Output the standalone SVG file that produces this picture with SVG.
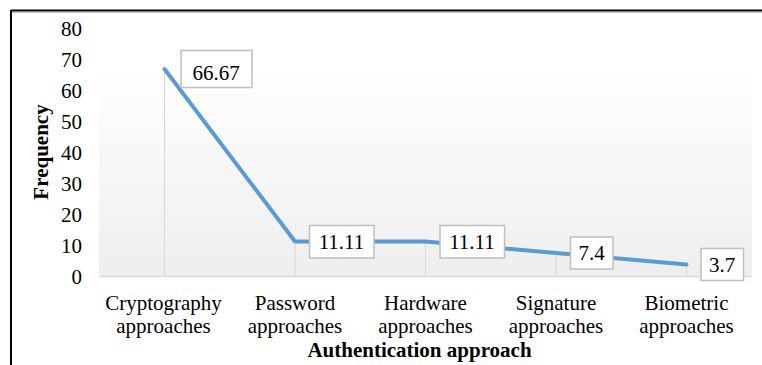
<svg xmlns="http://www.w3.org/2000/svg" width="762" height="365" viewBox="0 0 762 365">
<defs>
<linearGradient id="pa" x1="0" y1="0" x2="0" y2="1">
<stop offset="0" stop-color="#ffffff"/>
<stop offset="0.15" stop-color="#ffffff"/>
<stop offset="1" stop-color="#eeeeee"/>
</linearGradient>
</defs>
<style>
text{font-family:"Liberation Serif","Times New Roman",serif;fill:#000;font-size:21px}
.tick{text-anchor:end}
.cat{text-anchor:middle}
.title{font-weight:bold;text-anchor:middle}
.dl{text-anchor:middle}
.lbl{fill:#fff;stroke:#bfbfbf;stroke-width:1.5}
.drop{stroke:#d9d9d9;stroke-width:1.2}
</style>
<rect width="762" height="365" fill="#fff"/>
<line x1="11" y1="10.5" x2="762" y2="10.5" stroke="#000" stroke-width="2"/>
<line x1="11" y1="12" x2="762" y2="12" stroke="#888" stroke-width="1"/>
<line x1="11" y1="10" x2="11" y2="365" stroke="#000" stroke-width="2"/>
<rect x="99" y="28" width="653" height="248" fill="url(#pa)"/>
<line x1="99" y1="276.5" x2="752" y2="276.5" stroke="#d9d9d9" stroke-width="1.5"/>
<g id="yaxis">
<text class="tick" x="82" y="35.5">80</text>
<text class="tick" x="82" y="66.5">70</text>
<text class="tick" x="82" y="97.5">60</text>
<text class="tick" x="82" y="128.5">50</text>
<text class="tick" x="82" y="159.5">40</text>
<text class="tick" x="82" y="190.5">30</text>
<text class="tick" x="82" y="221.5">20</text>
<text class="tick" x="82" y="252.5">10</text>
<text class="tick" x="82" y="283.5">0</text>
<text class="title" transform="translate(47.5,152) rotate(-90)">Frequency</text>
</g>
<g id="connectors">
<line class="drop" x1="164.5" y1="69" x2="164.5" y2="276"/>
<line class="drop" x1="295" y1="241.5" x2="295" y2="276"/>
<line class="drop" x1="425.5" y1="241.5" x2="425.5" y2="276"/>
<line class="drop" x1="556" y1="253" x2="556" y2="276"/>
<line class="drop" x1="686.5" y1="264.5" x2="686.5" y2="276"/>
<polyline points="164.5,69 295,241.5 425.5,241.5 556,253 686.5,264.5" fill="none" stroke="#5b9bd5" stroke-width="4" stroke-linejoin="round" stroke-linecap="round"/>
</g>
<g id="cryptography">
<rect class="lbl" x="181" y="50.5" width="71" height="37"/>
<text class="dl" x="216" y="80" font-size="24">66.67</text>
<text class="cat" x="163.5" y="310">Cryptography</text>
<text class="cat" x="163.5" y="333">approaches</text>
</g>
<g id="password">
<rect class="lbl" x="309.5" y="225.5" width="64.5" height="32.5"/>
<text class="dl" x="341.5" y="249">11.11</text>
<text class="cat" x="295" y="310">Password</text>
<text class="cat" x="295" y="333">approaches</text>
</g>
<g id="hardware">
<rect class="lbl" x="440" y="225.5" width="64.5" height="32.5"/>
<text class="dl" x="472" y="249">11.11</text>
<text class="cat" x="425.5" y="310">Hardware</text>
<text class="cat" x="425.5" y="333">approaches</text>
</g>
<g id="signature">
<rect class="lbl" x="570.5" y="237" width="42.5" height="32"/>
<text class="dl" x="591.5" y="260">7.4</text>
<text class="cat" x="556" y="310">Signature</text>
<text class="cat" x="556" y="333">approaches</text>
</g>
<g id="biometric">
<rect class="lbl" x="701" y="248.5" width="42.5" height="32"/>
<text class="dl" x="722" y="271.5">3.7</text>
<text class="cat" x="686.5" y="310">Biometric</text>
<text class="cat" x="686.5" y="333">approaches</text>
</g>
<text class="title" x="419.5" y="357">Authentication approach</text>
</svg>
